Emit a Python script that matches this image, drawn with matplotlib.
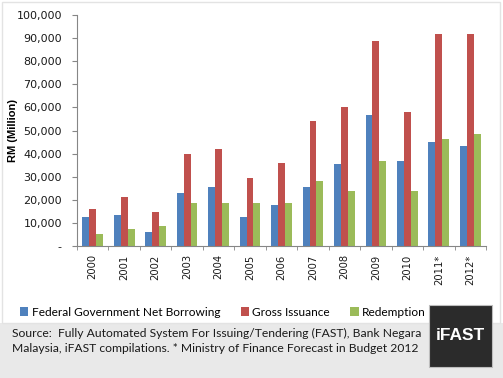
import matplotlib.pyplot as plt
import numpy as np
from matplotlib.patches import Rectangle

years = ["2000", "2001", "2002", "2003", "2004", "2005", "2006",
         "2007", "2008", "2009", "2010", "2011*", "2012*"]
net_borrowing = [12700, 13600, 6200, 23100, 25700, 12700, 17900,
                 25700, 35700, 56900, 36600, 45200, 43500]
gross_issuance = [16200, 21400, 14900, 40000, 41800, 29600, 36100,
                  53900, 60000, 88600, 58200, 91600, 91600]
redemption = [5300, 7200, 8800, 18800, 18400, 18800, 18400,
              28300, 23600, 36600, 24000, 46500, 48300]
series_names = ["Federal Government Net Borrowing", "Gross Issuance", "Redemption"]
colors = ["#4f81bd", "#c0504d", "#9bbb59"]
yticks = np.arange(0, 100001, 10000)

W, H = 503, 378
fig = plt.figure(figsize=(W / 100, H / 100), dpi=100)
fig.patch.set_facecolor("white")

# footer band and chart border
fig.patches.append(Rectangle((0, 0), 1, 1 - 323 / H, transform=fig.transFigure,
                             facecolor="#e9e9e9", edgecolor="none", zorder=0))
fig.patches.append(Rectangle((1.5 / W, 1 - 323 / H), 498.5 / W, 321.5 / H,
                             transform=fig.transFigure, facecolor="none",
                             edgecolor="#e3e3e3", lw=1, zorder=0))

ax = fig.add_axes([77 / W, 1 - 246 / H, 409 / W, 231 / H])
x = np.arange(len(years))
bw = 0.22
for i, (vals, c, name) in enumerate(zip([net_borrowing, gross_issuance, redemption],
                                        colors, series_names)):
    ax.bar(x + (i - 1) * bw, vals, bw, color=c, label=name, zorder=2)

ax.set_xlim(-0.5, len(years) - 0.5)
ax.set_ylim(0, 100000)
ax.set_yticks(yticks)
ax.set_yticklabels(["-"] + [f"{v:,}" for v in yticks[1:]], fontsize=8, color="#1a1a1a")
ax.set_xticks(x)
ax.set_xticklabels(years, rotation=90, fontsize=7.2, color="#1a1a1a")
ax.set_xticks(np.arange(-0.5, len(years)), minor=True)
ax.tick_params(axis="x", which="major", length=0, pad=6)
ax.tick_params(axis="x", which="minor", length=3.2, color="#868686")
ax.tick_params(axis="y", length=3.4, color="#868686", pad=7.5)
for s in ["top", "right"]:
    ax.spines[s].set_visible(False)
for s in ["left", "bottom"]:
    ax.spines[s].set_color("#868686")
ax.set_ylabel("RM (Million)", fontsize=8, fontweight="bold",
              family="Liberation Sans")
ax.yaxis.set_label_coords(-59 / 409, 0.5)

fig.legend(loc="center left", bbox_to_anchor=(15 / W, 1 - 312 / H), ncol=3,
           frameon=False, prop={"family": "Lato", "size": 8.6},
           handlelength=0.7, handleheight=0.7, handletextpad=0.3,
           columnspacing=1.7, borderaxespad=0)

fig.text(12 / W, 1 - 333 / H,
         "Source:  Fully Automated System For Issuing/Tendering (FAST), Bank Negara",
         fontsize=8.7, family="Lato", va="center", color="#1a1a1a")
fig.text(12 / W, 1 - 349 / H,
         "Malaysia, iFAST compilations. * Ministry of Finance Forecast in Budget 2012",
         fontsize=8.7, family="Lato", va="center", color="#1a1a1a")

fig.patches.append(Rectangle((429 / W, 1 - 367 / H), 63 / W, 62 / H,
                             transform=fig.transFigure, facecolor="#2b2b2b",
                             edgecolor="#bdbdbd", lw=0.8, zorder=1))
fig.text(460.5 / W, 1 - 336 / H, "iFAST", fontsize=12.5, fontweight="bold",
         family="Liberation Sans", color="white", ha="center", va="center")

fig.savefig("out.png", dpi=100)
